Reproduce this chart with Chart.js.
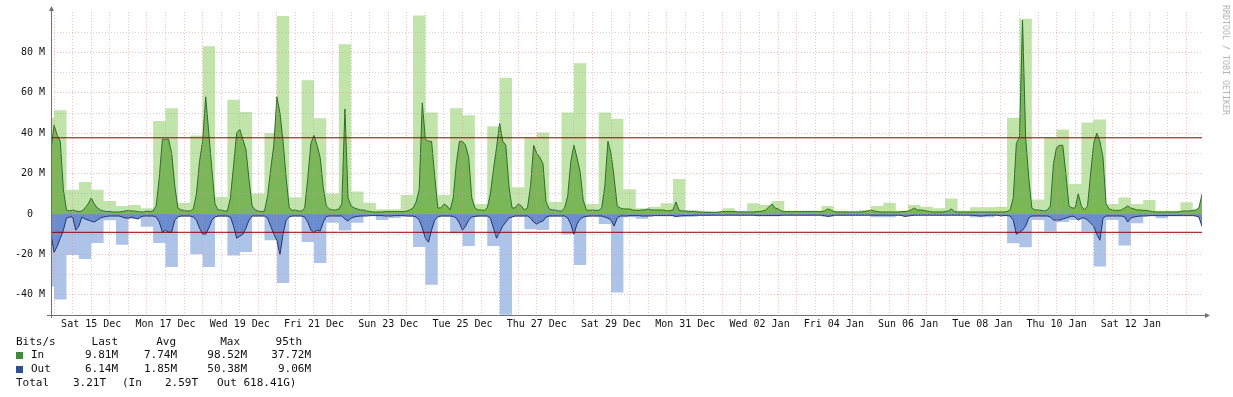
<!DOCTYPE html>
<html>
<head>
<meta charset="utf-8">
<script src="https://cdn.jsdelivr.net/npm/chart.js@4.4.0/dist/chart.umd.min.js"></script>
<style>
  html, body { margin: 0; padding: 0; background: #fff; }
  canvas { display: block; }
</style>
</head>
<body>
<canvas id="trafficChart" width="1233" height="397"></canvas>
<script>
// x values are hours counted from Fri 14 Dec 04:00
const X_MIN = 6, X_MAX = 750;
const AVG_START = 6, AVG_STEP = 2;   // 2 hour averages
const MAX_STEP = 8;                  // 8 hour maxima
const LABEL_START = 32, LABEL_STEP = 48;

const xLabels = ['Sat 15 Dec', 'Mon 17 Dec', 'Wed 19 Dec', 'Fri 21 Dec', 'Sun 23 Dec',
    'Tue 25 Dec', 'Thu 27 Dec', 'Sat 29 Dec', 'Mon 31 Dec', 'Wed 02 Jan',
    'Fri 04 Jan', 'Sun 06 Jan', 'Tue 08 Jan', 'Thu 10 Jan', 'Sat 12 Jan'];
const yLabelValues = [80, 60, 40, 20, 0, -20, -40];

// 8 hour maxima (Mbit/s)
const inMax = [
    47.6, 51.4, 12, 15.8, 12, 6.4, 4, 4.4, 2.8, 46, 52.3, 5.6,
    38.8, 83, 8.6, 56.5, 50.5, 10.2, 40, 98, 8.3, 66.2, 47.4, 10.2,
    84, 11.2, 5.6, 2.3, 2.3, 9.4, 98.3, 50.2, 9.4, 52.3, 48.9, 4.9,
    43.5, 67.5, 13.2, 37.9, 40.3, 5.9, 50.2, 74.6, 4.9, 50.2, 47.2, 12.3,
    2.8, 3.6, 5.3, 17.3, 2, 1.6, 1.2, 2.8, 1.6, 5.3, 4.4, 6.4,
    1.6, 1.6, 1.6, 4, 1.6, 1.3, 2, 4, 5.6, 1.6, 4.4, 3.6,
    2.8, 7.7, 1.6, 3.3, 3.3, 3.6, 47.7, 96.6, 7.2, 37.7, 41.8, 14.8,
    45.3, 46.8, 4.9, 8.2, 4.9, 6.9, 1.6, 1.6, 5.8, 2
];
const outMax = [
    35.9, 42.3, 20.3, 22.3, 14.4, 3.1, 15.2, 2.5, 6.3, 14.3, 26.2, 1.3,
    19.9, 26.2, 1.5, 20.5, 18.8, 1.2, 13, 34.2, 1.2, 13.8, 24.2, 4.3,
    8.2, 4.3, 0.8, 3, 2, 1.3, 16.3, 35, 1.3, 9.5, 15.8, 1.3,
    15.8, 49.9, 1.3, 7.6, 7.9, 1.3, 10.2, 25.2, 1.3, 4.9, 38.8, 1.6,
    2.3, 0.8, 0.8, 1.6, 1.3, 1, 0.8, 0.8, 0.8, 0.8, 0.8, 1,
    0.8, 0.8, 0.8, 1.3, 0.8, 0.8, 0.8, 1.6, 1.6, 0.8, 0.8, 0.6,
    0.6, 0.6, 0.6, 1.6, 1.6, 0.8, 14.5, 16.5, 3, 8.7, 4, 3,
    8.7, 26, 3, 15.6, 4.6, 1, 2.1, 1, 0.8, 1
];

// 2 hour averages (Mbit/s), one row per day
const inAvg = [
    32, 44, 39, 36, 12, 2, 1.5,                               // Dec 14 10:00-22:00
    2, 1.5, 1.2, 1.5, 3, 5, 8, 5, 3, 2, 1.5, 1.2,             // Dec 15
    1.2, 1, 1, 1, 1.2, 1.5, 1.8, 1.5, 1.5, 1.2, 1, 1,         // Dec 16
    1.5, 1.2, 1.5, 4, 18, 37, 37, 37, 30, 14, 3, 2,           // Dec 17
    1.8, 1.5, 1.5, 2.5, 10, 26, 36, 58, 40, 22, 5, 2,         // Dec 18
    2, 1.5, 1.5, 8, 24, 40, 42, 37, 32, 17, 4, 2,             // Dec 19
    1.5, 1.2, 1.5, 9, 22, 34, 58, 50, 36, 18, 3, 1.8,         // Dec 20
    2, 1.5, 1.5, 3, 18, 35, 39, 34, 28, 13, 4, 2.5,           // Dec 21
    2, 2, 2.5, 5, 52, 8, 4, 3, 2.5, 2, 2, 1.5,                // Dec 22
    1.2, 1, 1, 1, 1, 1.2, 1.2, 1.2, 1.2, 1.2, 1.2, 1.2,       // Dec 23
    1.5, 2, 3, 6, 12, 55, 37, 36, 36, 19, 3, 3,               // Dec 24
    5, 4, 2, 8, 25, 36, 36, 34, 28, 8, 3, 2,                  // Dec 25
    2, 1.8, 3, 10, 22, 33, 45, 36, 34, 14, 3, 3,              // Dec 26
    5, 4, 2, 3, 14, 34, 30, 28, 25, 6, 2.5, 2,                // Dec 27
    2, 1.5, 1.5, 3, 9, 26, 34, 28, 21, 7, 2, 1.8,             // Dec 28
    2, 1.8, 1.8, 3, 14, 36, 30, 18, 4, 3, 2.5, 2.5,           // Dec 29
    2.5, 2, 1.8, 1.8, 2, 2, 2.5, 2, 2, 2, 2, 2,               // Dec 30
    1.6, 1.6, 2, 6, 1.8, 1.5, 1.5, 1.2, 1.2, 1.2, 1, 1,       // Dec 31
    0.8, 0.8, 0.8, 0.8, 0.8, 1, 1.2, 1.2, 1.2, 1.2, 1.2, 1,   // Jan 01
    1, 1, 1, 1, 1, 1.2, 1.2, 1.5, 2, 3.5, 5, 3,               // Jan 02
    2.5, 1.5, 1.2, 1.2, 1.2, 1.2, 1.2, 1.2, 1.2, 1.2, 1.2, 1.2, // Jan 03
    1.2, 1.2, 1.2, 1.5, 2.5, 2, 1.2, 1, 1, 1, 1, 1,           // Jan 04
    1, 1, 1, 1, 1.2, 1.5, 2, 1.5, 1.2, 1, 1, 1,               // Jan 05
    1, 1, 1, 1, 1.2, 1.2, 1.5, 2, 3, 2, 2, 1.8,               // Jan 06
    1.5, 1.2, 1, 1, 1, 1, 1.2, 1.5, 2.5, 1.2, 1, 1,           // Jan 07
    1, 1, 1, 1, 1, 1, 1, 1, 1, 1, 1, 1,                       // Jan 08
    1, 1, 1.2, 2, 8, 35, 38, 96, 38, 18, 3, 2,                // Jan 09
    2, 1.8, 1.5, 2, 4, 25, 33, 34, 34, 20, 4, 3,              // Jan 10
    3, 10, 4, 2, 4, 20, 35, 40, 36, 28, 5, 2.5,               // Jan 11
    2, 1.8, 1.8, 2, 3, 4, 3, 2.5, 2, 2, 1.8, 1.8,             // Jan 12
    1.5, 1.2, 1, 1, 1, 1, 1, 1, 1, 1, 1.2, 1.5,               // Jan 13
    1.5, 1.5, 1.8, 2, 3, 9.8                                  // Jan 14 00:00-10:00
];
const outAvg = [
    10, 19, 16, 12, 8, 2, 1.5,                                // Dec 14 10:00-22:00
    1.5, 8, 6, 1.5, 2.5, 3, 3.5, 4, 3, 2, 1.5, 1.2,           // Dec 15
    1, 1, 1, 1, 1.5, 2, 2, 1.5, 2, 2.5, 1.5, 1,               // Dec 16
    1, 1, 1, 1.5, 4, 9, 8, 9, 9, 3, 1.5, 1,                   // Dec 17
    1, 1, 1, 1.5, 3, 7, 10, 10, 7, 3, 1.5, 1,                 // Dec 18
    1, 1, 1, 1.5, 6, 12, 11, 10, 7, 3, 1, 1,                  // Dec 19
    1, 1, 1, 2, 6, 10, 13, 20, 10, 3, 1.5, 1,                 // Dec 20
    1, 1, 1, 1.5, 4, 8, 9, 8, 8.5, 4, 1.2, 1,                 // Dec 21
    1, 1, 1, 1, 2.5, 3.5, 2, 1.5, 1.2, 1, 1, 1,               // Dec 22
    0.8, 0.8, 0.8, 0.8, 0.8, 1, 1, 1, 0.8, 0.8, 0.8, 0.8,     // Dec 23
    1, 1, 1, 1.5, 3, 7, 12, 14, 8, 3, 1.5, 1,                 // Dec 24
    1, 1, 1, 1.2, 2, 4.5, 8, 6, 3, 1.5, 1.2, 1,               // Dec 25
    1, 1, 1, 2, 7, 12, 9, 6, 4, 2, 1.5, 1,                    // Dec 26
    1, 1, 1, 1, 2, 4, 5, 4, 3.5, 1.5, 1, 1,                   // Dec 27
    1, 1, 1, 1, 2, 5, 10, 5, 2.5, 1.5, 1.2, 1,                // Dec 28
    1, 1, 1, 1, 1.5, 2, 3, 6, 2, 1, 1, 1,                     // Dec 29
    0.8, 0.8, 0.8, 0.8, 1, 1, 1, 1, 0.8, 0.8, 0.8, 0.8,       // Dec 30
    0.8, 0.8, 0.8, 1.2, 1, 0.8, 0.8, 0.8, 0.8, 0.6, 0.6, 0.6, // Dec 31
    0.6, 0.6, 0.6, 0.6, 0.6, 0.6, 0.6, 0.6, 0.6, 0.6, 0.6, 0.6, // Jan 01
    0.6, 0.6, 0.6, 0.6, 0.6, 0.8, 0.8, 0.8, 0.8, 0.8, 0.8, 0.8, // Jan 02
    0.8, 0.6, 0.6, 0.6, 0.6, 0.6, 0.6, 0.6, 0.6, 0.6, 0.6, 0.6, // Jan 03
    0.6, 0.6, 0.6, 0.8, 1.2, 1, 0.6, 0.6, 0.6, 0.6, 0.6, 0.6, // Jan 04
    0.6, 0.6, 0.6, 0.6, 0.6, 0.6, 0.6, 0.6, 0.6, 0.6, 0.6, 0.6, // Jan 05
    0.6, 0.6, 0.6, 0.6, 0.8, 1.2, 1, 0.8, 0.6, 0.6, 0.6, 0.6, // Jan 06
    0.6, 0.6, 0.6, 0.6, 0.6, 0.6, 0.6, 0.6, 0.6, 0.6, 0.6, 0.6, // Jan 07
    0.6, 0.6, 0.6, 0.6, 0.8, 1, 1, 0.8, 0.6, 0.6, 0.6, 0.6,   // Jan 08
    1, 0.8, 0.8, 1, 3, 10, 9, 8, 6, 2, 1, 1,                  // Jan 09
    1, 1, 1, 1, 1.5, 3, 3, 3, 2.5, 2, 1.5, 1,                 // Jan 10
    1.5, 3, 2, 2, 3, 4.5, 6, 10, 13, 2, 1, 1,                 // Jan 11
    1, 1, 1, 1, 1.5, 4, 2, 1.5, 1.2, 1, 1, 1,                 // Jan 12
    0.8, 0.8, 0.8, 0.8, 0.8, 0.8, 0.8, 0.8, 0.8, 0.8, 0.8, 0.8, // Jan 13
    0.8, 0.8, 0.8, 1, 1.5, 6.1                                // Jan 14 00:00-10:00
];

const in95 = 37.72;
const out95 = 9.06;

const legendHeader = ['Last', 'Avg', 'Max', '95th'];
const legendIn = ['9.81M', '7.74M', '98.52M', '37.72M'];
const legendOut = ['6.14M', '1.85M', '50.38M', '9.06M'];
const totalAll = '3.21T', totalIn = '2.59T', totalOut = '618.41G';

const MONO = '"DejaVu Sans Mono", "Liberation Mono", monospace';

function avgPoints(values, sign) {
    return values.map((v, i) => ({ x: AVG_START + i * AVG_STEP, y: sign * v }));
}

// each maximum holds from its start hour until the next one
function maxPoints(values, sign) {
    const pts = values.map((v, i) => ({ x: i * MAX_STEP, y: sign * v }));
    pts.push({ x: values.length * MAX_STEP, y: sign * values[values.length - 1] });
    return pts;
}

const gridHours = [];
for (let h = 8; h <= X_MAX; h += 12) gridHours.push(h);
const gridValues = [];
for (let v = -40; v <= 90; v += 10) gridValues.push(v);

const rrdDecor = {
    id: 'rrdDecor',
    afterDraw(chart) {
        const { ctx, chartArea: a } = chart;
        ctx.save();

        // axes with arrows
        ctx.strokeStyle = '#707070';
        ctx.fillStyle = '#707070';
        ctx.lineWidth = 1;
        ctx.beginPath();
        ctx.moveTo(a.left + 0.5, a.bottom + 3);
        ctx.lineTo(a.left + 0.5, a.top - 3);
        ctx.moveTo(a.left - 4, a.bottom + 0.5);
        ctx.lineTo(a.right + 4, a.bottom + 0.5);
        ctx.stroke();
        ctx.beginPath();
        ctx.moveTo(a.left + 0.5, a.top - 6);
        ctx.lineTo(a.left - 2, a.top - 1);
        ctx.lineTo(a.left + 3, a.top - 1);
        ctx.closePath();
        ctx.fill();
        ctx.beginPath();
        ctx.moveTo(a.right + 8, a.bottom + 0.5);
        ctx.lineTo(a.right + 3, a.bottom - 2);
        ctx.lineTo(a.right + 3, a.bottom + 3);
        ctx.closePath();
        ctx.fill();

        // watermark
        ctx.save();
        ctx.translate(1225, 5);
        ctx.rotate(Math.PI / 2);
        ctx.fillStyle = '#b4b4b4';
        ctx.font = '8.3px ' + MONO;
        ctx.textBaseline = 'middle';
        ctx.textAlign = 'left';
        ctx.fillText('RRDTOOL / TOBI OETIKER', 0, 0);
        ctx.restore();

        // legend
        ctx.font = '11px ' + MONO;
        ctx.fillStyle = '#111';
        ctx.textBaseline = 'middle';
        const rows = [342, 355.5, 369.5, 383];
        const rightEdges = [118, 177, 247, 311];

        ctx.textAlign = 'left';
        ctx.fillText('Bits/s', 16, rows[0]);
        ctx.textAlign = 'right';
        const headerEdges = [118, 176, 240, 302];
        legendHeader.forEach((t, i) => ctx.fillText(t, headerEdges[i], rows[0]));

        ctx.fillStyle = '#3f8a3f';
        ctx.fillRect(16, rows[1] - 3.5, 7, 7);
        ctx.fillStyle = '#2f4f8f';
        ctx.fillRect(16, rows[2] - 3.5, 7, 7);

        ctx.fillStyle = '#111';
        ctx.textAlign = 'left';
        ctx.fillText('In', 31, rows[1]);
        ctx.fillText('Out', 31, rows[2]);
        ctx.textAlign = 'right';
        legendIn.forEach((t, i) => ctx.fillText(t, rightEdges[i], rows[1]));
        legendOut.forEach((t, i) => ctx.fillText(t, rightEdges[i], rows[2]));

        ctx.textAlign = 'left';
        ctx.fillText('Total', 16, rows[3]);
        ctx.textAlign = 'right';
        ctx.fillText(totalAll, 106, rows[3]);
        ctx.fillText(totalIn, 198, rows[3]);
        ctx.textAlign = 'left';
        ctx.fillText('(In', 122, rows[3]);
        ctx.fillText('Out ' + totalOut + ')', 217, rows[3]);

        ctx.restore();
    }
};

const ctx = document.getElementById('trafficChart').getContext('2d');
new Chart(ctx, {
    type: 'line',
    data: {
        datasets: [
            {
                label: 'In max',
                data: maxPoints(inMax, 1),
                stepped: 'before',
                fill: 'origin',
                backgroundColor: '#c1e4ab',
                borderColor: 'rgba(0,0,0,0)',
                borderWidth: 0,
                order: 6
            },
            {
                label: 'Out max',
                data: maxPoints(outMax, -1),
                stepped: 'before',
                fill: 'origin',
                backgroundColor: '#adc4e8',
                borderColor: 'rgba(0,0,0,0)',
                borderWidth: 0,
                order: 5
            },
            {
                label: 'In',
                data: avgPoints(inAvg, 1),
                fill: 'origin',
                backgroundColor: '#7ab758',
                borderColor: '#2d6d2d',
                borderWidth: 1,
                order: 4
            },
            {
                label: 'Out',
                data: avgPoints(outAvg, -1),
                fill: 'origin',
                backgroundColor: '#6b8cce',
                borderColor: '#22356e',
                borderWidth: 1,
                order: 3
            },
            {
                label: 'In 95th',
                data: [{ x: X_MIN, y: in95 }, { x: X_MAX, y: in95 }],
                borderColor: '#8b0000',
                borderWidth: 1,
                fill: false,
                order: 1
            },
            {
                label: 'Out 95th',
                data: [{ x: X_MIN, y: -out95 }, { x: X_MAX, y: -out95 }],
                borderColor: '#8b0000',
                borderWidth: 1,
                fill: false,
                order: 0
            }
        ]
    },
    options: {
        responsive: false,
        animation: false,
        events: [],
        layout: { padding: { top: 12, right: 31, left: 0, bottom: 0 } },
        elements: { point: { radius: 0 }, line: { tension: 0 } },
        plugins: {
            legend: { display: false },
            tooltip: { enabled: false }
        },
        scales: {
            x: {
                type: 'linear',
                min: X_MIN,
                max: X_MAX,
                afterBuildTicks: scale => { scale.ticks = gridHours.map(v => ({ value: v })); },
                afterFit: scale => { scale.height = 82; },
                grid: { color: 'rgba(228,140,140,0.55)', z: 1, drawTicks: false },
                border: { display: false, dash: [1, 2] },
                ticks: {
                    autoSkip: false,
                    maxRotation: 0,
                    padding: 3,
                    color: '#111',
                    font: { family: MONO, size: 10 },
                    callback: value => {
                        const i = (value - LABEL_START) / LABEL_STEP;
                        return Number.isInteger(i) && xLabels[i] ? xLabels[i] : '';
                    }
                }
            },
            y: {
                min: -50,
                max: 100,
                afterBuildTicks: scale => { scale.ticks = gridValues.map(v => ({ value: v })); },
                afterFit: scale => { scale.width = 51; },
                grid: {
                    color: c => (c.tick && c.tick.value % 20 === 0) ? 'rgba(228,140,140,0.55)' : 'rgba(170,170,170,0.55)',
                    z: 1,
                    drawTicks: false
                },
                border: { display: false, dash: [1, 2] },
                ticks: {
                    padding: 6,
                    color: '#111',
                    font: { family: MONO, size: 10 },
                    callback: value => {
                        if (!yLabelValues.includes(value)) return '';
                        return value === 0 ? '0  ' : value + ' M';
                    }
                }
            }
        }
    },
    plugins: [rrdDecor]
});
</script>
</body>
</html>
